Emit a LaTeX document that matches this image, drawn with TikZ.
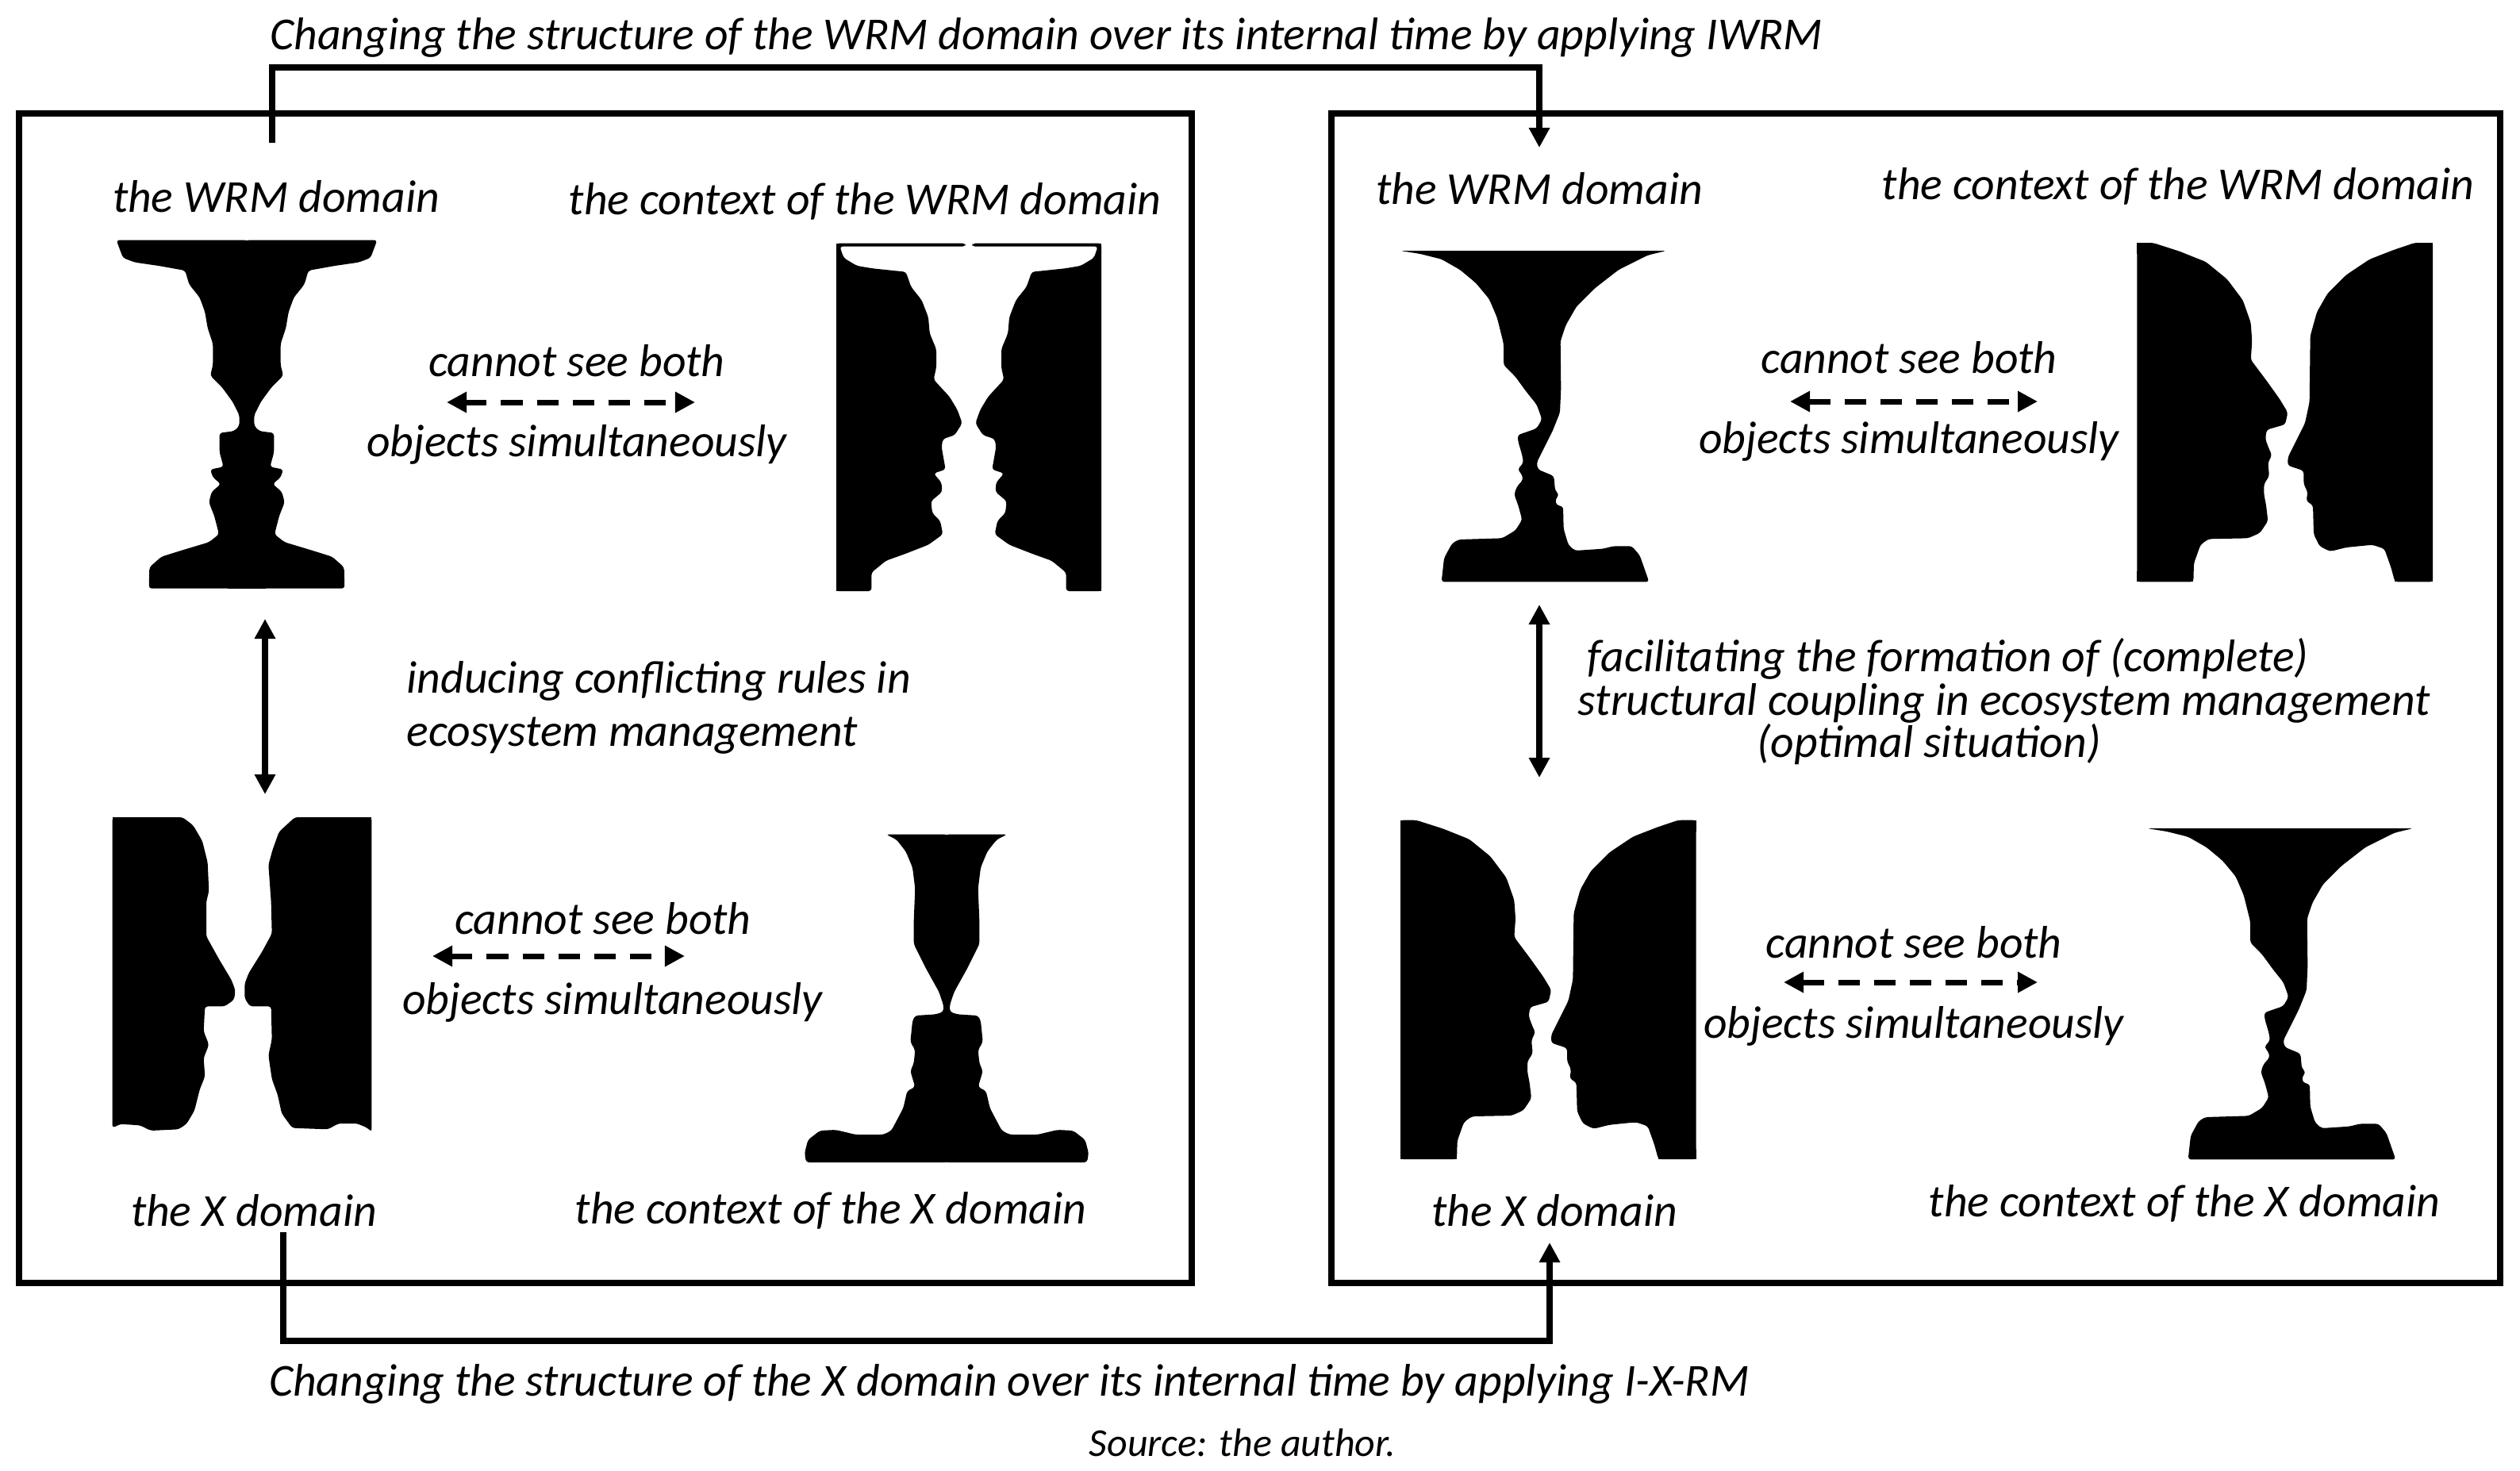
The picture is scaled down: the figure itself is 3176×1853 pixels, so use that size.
\documentclass[tikz,border=0pt]{standalone}
\usepackage{fontspec}
\setmainfont{Carlito}
\usetikzlibrary{arrows.meta}
\tikzset{
  sil/.style={fill=black,rounded corners=1pt},
  lab/.style={inner sep=0pt,anchor=base,yshift=-.02cm,font=\itshape\fontsize{16.4}{19}\selectfont},
  labl/.style={lab,anchor=base west},
  srcl/.style={lab,font=\itshape\fontsize{14.2}{17}\selectfont},
  frame/.style={draw=black,line width=.08cm,fill=none,outer sep=0pt,inner sep=0pt,anchor=north west},
  conn/.style={draw=black,line width=.08cm,line join=miter},
  uni/.style={conn,-{Triangle[length=.25cm,width=.25cm]}},
  bi/.style={conn,{Triangle[length=.25cm,width=.25cm]}-{Triangle[length=.25cm,width=.25cm]}},
  dbi/.style={bi,line width=.07cm,dash pattern=on .27cm off .18cm}
}
\newcommand{\vasehalfA}{\fill[sil] (80,68) -- (90,95) -- (105,135) -- (150,152) -- (240,165) -- (340,183) -- (355,235) -- (395,285) -- (415,340) -- (425,400) -- (445,460) -- (445,540) -- (435,580) -- (480,625) -- (520,680) -- (545,730) -- (545,770) -- (525,790) -- (470,797) -- (470,870) -- (485,925) -- (435,935) -- (445,965) -- (475,990) -- (440,1020) -- (430,1060) -- (450,1110) -- (468,1180) -- (430,1210) -- (330,1240) -- (250,1265) -- (205,1305) -- (203,1385) -- (576,1385) -- (576,68) -- cycle;
\fill (500,68) rectangle (576,120); \fill (500,1385) rectangle (576,1340);}
\newcommand{\faceshalfB}{\fill[sil] (72,50) -- (560,50) -- (560,62) -- (85,62) -- (100,105) -- (150,135) -- (210,145) -- (335,158) -- (355,215) -- (395,265) -- (420,330) -- (425,390) -- (450,450) -- (450,520) -- (440,565) -- (500,630) -- (530,680) -- (548,730) -- (520,775) -- (475,790) -- (470,820) -- (485,905) -- (440,920) -- (470,955) -- (472,990) -- (430,1025) -- (435,1070) -- (465,1100) -- (475,1150) -- (420,1190) -- (330,1225) -- (260,1250) -- (205,1295) -- (205,1365) -- (72,1365) -- cycle;
\fill (72,50) rectangle (84,100); \fill (72,1365) rectangle (150,1300);}
\newcommand{\vasehalfD}{\fill[sil] (380,95) -- (420,115) -- (455,160) -- (480,220) -- (490,300) -- (485,420) -- (485,510) -- (530,600) -- (580,690) -- (597,740) -- (597,765) -- (570,775) -- (490,780) -- (480,800) -- (472,880) -- (490,910) -- (485,960) -- (472,990) -- (490,1050) -- (460,1065) -- (445,1130) -- (400,1215) -- (370,1230) -- (265,1230) -- (190,1212) -- (130,1215) -- (85,1250) -- (72,1300) -- (78,1335) -- (612,1335) -- (612,95) -- cycle;
\fill (530,95) rectangle (612,140); \fill (530,1335) rectangle (612,1290);}
\newcommand{\vaseE}{\fill[sil] (135,78) -- (1140,78) -- (1070,95) -- (960,150) -- (870,220) -- (800,290) -- (760,360) -- (740,420) -- (742,600) -- (738,690) -- (710,760) -- (680,820) -- (650,880) -- (655,905) -- (715,930) -- (720,985) -- (735,1000) -- (720,1020) -- (725,1040) -- (750,1045) -- (752,1130) -- (770,1190) -- (795,1212) -- (900,1205) -- (940,1195) -- (1010,1195) -- (1040,1230) -- (1075,1330) -- (290,1330) -- (300,1240) -- (330,1185) -- (355,1170) -- (520,1165) -- (570,1135) -- (595,1095) -- (580,1040) -- (565,1000) -- (575,970) -- (598,945) -- (595,925) -- (578,905) -- (600,880) -- (595,850) -- (580,800) -- (578,775) -- (650,750) -- (670,715) -- (650,660) -- (610,610) -- (570,555) -- (525,510) -- (525,430) -- (500,330) -- (470,260) -- (420,200) -- (360,150) -- (290,110) -- (210,90) -- cycle;}
\newcommand{\facesF}{%
\fill[sil] (70,48) -- (130,48) -- (230,80) -- (330,120) -- (410,185) -- (470,265) -- (500,350) -- (505,420) -- (500,490) -- (560,570) -- (610,640) -- (640,690) -- (630,735) -- (560,755) -- (555,790) -- (570,830) -- (580,850) -- (565,880) -- (570,930) -- (550,960) -- (550,1000) -- (558,1040) -- (565,1100) -- (535,1145) -- (490,1165) -- (340,1168) -- (310,1190) -- (285,1260) -- (283,1330) -- (70,1330) -- cycle;
\fill[sil] (1188,48) -- (1120,48) -- (1040,75) -- (950,110) -- (860,170) -- (790,240) -- (750,310) -- (725,400) -- (722,650) -- (705,730) -- (670,800) -- (640,860) -- (640,890) -- (700,910) -- (700,960) -- (715,990) -- (710,1025) -- (735,1040) -- (738,1150) -- (760,1195) -- (800,1215) -- (860,1200) -- (960,1190) -- (1005,1205) -- (1030,1275) -- (1045,1330) -- (1188,1330) -- cycle;
\fill (70,48) rectangle (110,90); \fill (70,1330) rectangle (150,1290);
\fill (1188,48) rectangle (1140,90); \fill (1188,1330) rectangle (1110,1290);
\fill (283,1330) rectangle (250,1290); \fill (1045,1330) rectangle (1060,1300);}
\begin{document}
\begin{tikzpicture}[x=.01cm,y=-.01cm]
\useasboundingbox (0,0) rectangle (3176,1853);
% silhouettes
\begin{scope}[shift={(120,280)},scale=1/3]\vasehalfA\end{scope}
\begin{scope}[shift={(502,280)},xscale=-1/3,yscale=1/3]\vasehalfA\end{scope}
\begin{scope}[shift={(1030,290)},scale=1/3]\faceshalfB\end{scope}
\begin{scope}[shift={(1412,290)},xscale=-1/3,yscale=1/3]\faceshalfB\end{scope}
\begin{scope}[shift={(120,1010)},scale=1/3]
\fill[sil] (65,60) -- (330,60) -- (370,90) -- (405,150) -- (425,230) -- (430,340) -- (420,380) -- (420,510) -- (470,600) -- (515,675) -- (530,715) -- (525,750) -- (490,775) -- (415,775) -- (410,870) -- (430,920) -- (410,970) -- (415,1040) -- (395,1090) -- (375,1170) -- (345,1220) -- (315,1240) -- (210,1245) -- (170,1225) -- (95,1220) -- (65,1235) -- cycle;
\fill[sil] (1045,60) -- (755,60) -- (695,115) -- (670,185) -- (655,240) -- (665,380) -- (668,500) -- (630,570) -- (580,650) -- (565,690) -- (565,745) -- (585,775) -- (665,775) -- (668,900) -- (655,960) -- (668,1050) -- (690,1110) -- (705,1180) -- (745,1235) -- (880,1240) -- (920,1218) -- (990,1218) -- (1030,1235) -- (1045,1250) -- cycle;
\fill (65,60) rectangle (120,120); \fill (1045,60) rectangle (1000,120);
\end{scope}
\begin{scope}[shift={(990,1020)},scale=1/3]\vasehalfD\end{scope}
\begin{scope}[shift={(1396,1020)},xscale=-1/3,yscale=1/3]\vasehalfD\end{scope}
\begin{scope}[shift={(1720,290)},scale=1/3]\vaseE\end{scope}
\begin{scope}[shift={(2661,1018)},scale=1/3]\vaseE\end{scope}
\begin{scope}[shift={(2670,290)},scale=1/3]\facesF\end{scope}
\begin{scope}[shift={(1741.7,1017.7)},scale=1/3]\facesF\end{scope}
% frames
\node[frame,minimum width=14.77cm,minimum height=14.73cm] (boxL) at (24,143) {};
\node[frame,minimum width=14.72cm,minimum height=14.73cm] (boxR) at (1678,143) {};
% labels
\node[lab] (topcap) at (1319,60) {Changing the structure of the WRM domain over its internal time by applying IWRM};
\node[lab] (wrmL) at (348,265) {the WRM domain};
\node[lab] (ctxwL) at (1090,268) {the context of the WRM domain};
\node[lab] (canA) at (727,472) {cannot see both};
\node[lab] (objA) at (727,573) {objects simultaneously};
\node[labl] (indA) at (512,871) {inducing conflicting rules in};
\node[labl] (indB) at (512,938) {ecosystem management};
\node[lab] (canB) at (760,1175) {cannot see both};
\node[lab] (objB) at (772,1276) {objects simultaneously};
\node[lab] (xL) at (320,1543) {the X domain};
\node[lab] (ctxxL) at (1047,1540) {the context of the X domain};
\node[lab] (wrmR) at (1940,255) {the WRM domain};
\node[lab] (ctxwR) at (2745,249) {the context of the WRM domain};
\node[lab] (canC) at (2406,468) {cannot see both};
\node[lab] (objC) at (2406,569) {objects simultaneously};
\node[lab] (facA) at (2455,844) {facilitating the formation of (complete)};
\node[lab] (facB) at (2526,899) {structural coupling in ecosystem management};
\node[lab] (facC) at (2431,952) {(optimal situation)};
\node[lab] (canD) at (2412,1205) {cannot see both};
\node[lab] (objD) at (2412,1306) {objects simultaneously};
\node[lab] (xR) at (1959,1543) {the X domain};
\node[lab] (ctxxR) at (2753,1531) {the context of the X domain};
\node[lab] (botcap) at (1272,1757) {Changing the structure of the X domain over its internal time by applying I-X-RM};
\node[srcl] (src) at (1566,1833) {Source: the author.};
% connector ends
\coordinate (tS) at (343,180); \coordinate (tE) at (1940,186);
\coordinate (bS) at (357,1553); \coordinate (bE) at (1953,1566);
\coordinate (vLa) at (334,780); \coordinate (vLb) at (334,1001);
\coordinate (vRa) at (1940,762); \coordinate (vRb) at (1940,980);
\coordinate (dAa) at (563,507); \coordinate (dAb) at (876,507);
\coordinate (dBa) at (545,1205); \coordinate (dBb) at (863,1205);
\coordinate (dCa) at (2256,506); \coordinate (dCb) at (2568,506);
\coordinate (dDa) at (2248,1238); \coordinate (dDb) at (2568,1238);
% connectors
\draw[uni] (tS) -- (343,85) -| (tE);
\draw[uni] (bS) -- (357,1690) -| (bE);
\draw[bi] (vLa) -- (vLb);
\draw[bi] (vRa) -- (vRb);
\draw[dbi] (dAa) -- (dAb);
\draw[dbi] (dBa) -- (dBb);
\draw[dbi] (dCa) -- (dCb);
\draw[dbi] (dDa) -- (dDb);
\end{tikzpicture}
\end{document}
